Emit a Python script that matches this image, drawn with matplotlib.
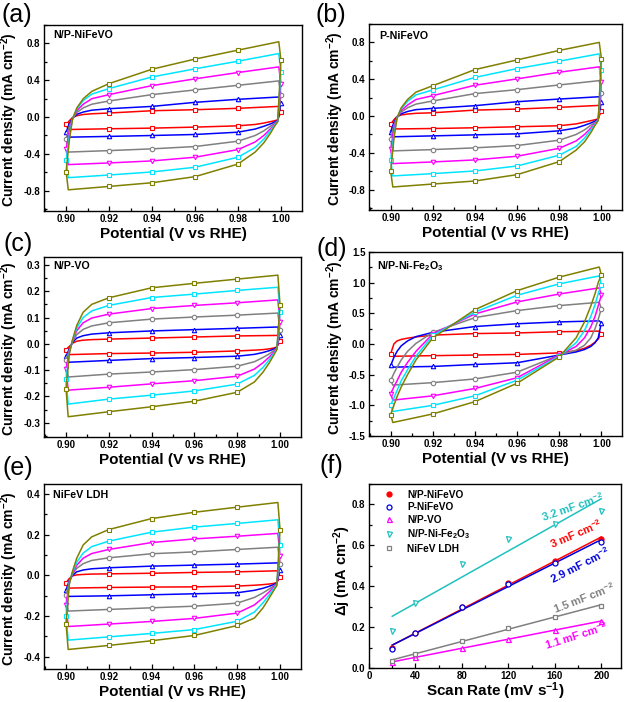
import numpy as np
import matplotlib
matplotlib.use('Agg')
import matplotlib.pyplot as plt
from matplotlib.ticker import MultipleLocator, FormatStrFormatter

plt.rcParams['font.family'] = ['Liberation Sans', 'DejaVu Sans']
plt.rcParams['font.weight'] = 'bold'
plt.rcParams['axes.labelweight'] = 'bold'
plt.rcParams['mathtext.fontset'] = 'custom'
plt.rcParams['mathtext.rm'] = 'Liberation Sans:bold'
plt.rcParams['mathtext.it'] = 'Liberation Sans:bold'
plt.rcParams['mathtext.bf'] = 'Liberation Sans:bold'
plt.rcParams['mathtext.default'] = 'rm'
plt.rcParams['axes.unicode_minus'] = False

# potentials of the anodic (forward) and cathodic (backward) branch samples
POT_UP = [0.900, 0.9015, 0.903, 0.905, 0.908, 0.912, 0.920, 0.940, 0.960, 0.980, 0.999]
POT_DN = [1.000, 0.9985, 0.997, 0.995, 0.992, 0.988, 0.980, 0.960, 0.940, 0.920, 0.901]
# rows: scan rates 20, 40, 80, 120, 160, 200 mV/s
CV_COLORS = ['#ff0000', '#0000ff', '#808080', '#ff00ff', '#00e5ff', '#808000']
CV_MARKERS = ['s', '^', 'o', 'v', 's', 's']

# (a) N/P-NiFeVO
a_up = [[-0.080, -0.04, -0.005, 0.015, 0.028, 0.036, 0.044, 0.069, 0.080, 0.095, 0.116],
        [-0.164, -0.07, -0.010, 0.030, 0.055, 0.075, 0.091, 0.116, 0.160, 0.193, 0.218],
        [-0.236, -0.10, -0.015, 0.050, 0.100, 0.140, 0.175, 0.244, 0.295, 0.345, 0.393],
        [-0.345, -0.15, -0.020, 0.070, 0.140, 0.200, 0.244, 0.342, 0.415, 0.484, 0.545],
        [-0.470, -0.20, -0.020, 0.090, 0.180, 0.250, 0.310, 0.436, 0.524, 0.607, 0.690],
        [-0.593, -0.25, -0.020, 0.100, 0.200, 0.280, 0.364, 0.520, 0.630, 0.727, 0.818]]
a_dn = [[0.058, -0.030, -0.040, -0.050, -0.065, -0.080, -0.095, -0.109, -0.120, -0.127, -0.135],
        [0.153, -0.035, -0.055, -0.075, -0.100, -0.130, -0.164, -0.189, -0.200, -0.210, -0.218],
        [0.244, -0.040, -0.070, -0.100, -0.150, -0.200, -0.262, -0.320, -0.345, -0.364, -0.380],
        [0.364, -0.040, -0.080, -0.130, -0.200, -0.270, -0.353, -0.436, -0.476, -0.498, -0.516],
        [0.490, -0.045, -0.090, -0.150, -0.240, -0.330, -0.436, -0.545, -0.596, -0.629, -0.658],
        [0.618, -0.050, -0.100, -0.180, -0.280, -0.380, -0.510, -0.647, -0.713, -0.753, -0.790]]

# (b) P-NiFeVO
b_up = [[-0.090, -0.04, -0.005, 0.012, 0.022, 0.030, 0.036, 0.065, 0.076, 0.095, 0.116],
        [-0.170, -0.07, -0.010, 0.025, 0.050, 0.070, 0.084, 0.113, 0.156, 0.185, 0.210],
        [-0.250, -0.10, -0.015, 0.045, 0.090, 0.130, 0.164, 0.244, 0.287, 0.338, 0.385],
        [-0.360, -0.15, -0.020, 0.060, 0.120, 0.180, 0.222, 0.335, 0.404, 0.476, 0.535],
        [-0.480, -0.20, -0.020, 0.080, 0.160, 0.230, 0.284, 0.420, 0.516, 0.596, 0.676],
        [-0.600, -0.25, -0.020, 0.090, 0.180, 0.260, 0.330, 0.505, 0.610, 0.713, 0.800]]
b_dn = [[0.058, -0.030, -0.040, -0.050, -0.065, -0.085, -0.105, -0.116, -0.127, -0.135, -0.140],
        [0.156, -0.035, -0.055, -0.075, -0.100, -0.130, -0.160, -0.193, -0.204, -0.215, -0.225],
        [0.255, -0.040, -0.070, -0.100, -0.150, -0.200, -0.262, -0.320, -0.345, -0.364, -0.378],
        [0.370, -0.040, -0.080, -0.130, -0.200, -0.270, -0.350, -0.436, -0.476, -0.498, -0.516],
        [0.500, -0.045, -0.090, -0.150, -0.240, -0.330, -0.425, -0.542, -0.596, -0.625, -0.650],
        [0.625, -0.050, -0.100, -0.180, -0.280, -0.370, -0.495, -0.636, -0.705, -0.738, -0.770]]

# (c) N/P-VO
c_up = [[-0.022, -0.010, 0.002, 0.010, 0.014, 0.016, 0.018, 0.022, 0.026, 0.030, 0.032],
        [-0.047, -0.020, 0.005, 0.022, 0.031, 0.037, 0.042, 0.049, 0.054, 0.059, 0.064],
        [-0.060, -0.025, 0.008, 0.035, 0.055, 0.068, 0.080, 0.094, 0.102, 0.109, 0.117],
        [-0.094, -0.030, 0.010, 0.050, 0.080, 0.098, 0.113, 0.134, 0.146, 0.156, 0.167],
        [-0.134, -0.035, 0.012, 0.060, 0.100, 0.125, 0.146, 0.176, 0.189, 0.203, 0.215],
        [-0.170, -0.040, 0.015, 0.070, 0.120, 0.150, 0.175, 0.213, 0.230, 0.246, 0.261]]
c_dn = [[0.009, -0.012, -0.016, -0.019, -0.022, -0.024, -0.027, -0.032, -0.035, -0.037, -0.041],
        [0.035, -0.014, -0.020, -0.026, -0.033, -0.040, -0.047, -0.052, -0.056, -0.063, -0.070],
        [0.051, -0.016, -0.026, -0.038, -0.052, -0.068, -0.085, -0.098, -0.107, -0.115, -0.126],
        [0.083, -0.018, -0.032, -0.050, -0.072, -0.096, -0.123, -0.140, -0.152, -0.165, -0.176],
        [0.120, -0.020, -0.038, -0.060, -0.090, -0.120, -0.153, -0.179, -0.195, -0.210, -0.229],
        [0.148, -0.022, -0.044, -0.072, -0.108, -0.145, -0.184, -0.218, -0.239, -0.258, -0.277]]

# (d) N/P-Ni-Fe2O3
d_up = [[-0.16, 0.00, 0.05, 0.075, 0.095, 0.115, 0.145, 0.17, 0.18, 0.20, 0.21],
        [-0.35, -0.22, -0.12, -0.03, 0.05, 0.12, 0.19, 0.285, 0.33, 0.36, 0.377],
        [-0.595, -0.48, -0.38, -0.26, -0.12, 0.01, 0.19, 0.43, 0.545, 0.626, 0.68],
        [-0.81, -0.70, -0.60, -0.46, -0.30, -0.12, 0.165, 0.49, 0.686, 0.815, 0.915],
        [-0.995, -0.88, -0.76, -0.60, -0.42, -0.20, 0.14, 0.52, 0.795, 0.98, 1.11],
        [-1.15, -1.00, -0.86, -0.70, -0.50, -0.26, 0.10, 0.56, 0.87, 1.09, 1.255]]
d_dn = [[0.17, 0.08, 0.03, -0.02, -0.07, -0.11, -0.145, -0.17, -0.18, -0.19, -0.20],
        [0.345, 0.10, 0.02, -0.04, -0.09, -0.13, -0.18, -0.306, -0.334, -0.366, -0.377],
        [0.578, 0.40, 0.25, 0.10, -0.02, -0.10, -0.18, -0.46, -0.57, -0.63, -0.67],
        [0.795, 0.62, 0.45, 0.28, 0.10, -0.04, -0.18, -0.55, -0.725, -0.845, -0.915],
        [0.97, 0.82, 0.64, 0.45, 0.22, 0.02, -0.20, -0.59, -0.845, -1.00, -1.10],
        [1.13, 1.00, 0.82, 0.62, 0.36, 0.10, -0.21, -0.64, -0.94, -1.14, -1.28]]

# (e) NiFeV LDH
e_up = [[-0.036, -0.015, -0.002, 0.003, 0.005, 0.007, 0.008, 0.011, 0.015, 0.018, 0.023],
        [-0.072, -0.025, 0.000, 0.018, 0.027, 0.033, 0.038, 0.046, 0.051, 0.056, 0.062],
        [-0.098, -0.030, 0.005, 0.035, 0.058, 0.074, 0.087, 0.107, 0.116, 0.128, 0.139],
        [-0.143, -0.035, 0.010, 0.050, 0.085, 0.108, 0.128, 0.162, 0.180, 0.193, 0.207],
        [-0.200, -0.040, 0.015, 0.065, 0.110, 0.142, 0.169, 0.213, 0.238, 0.256, 0.274],
        [-0.238, -0.045, 0.020, 0.085, 0.150, 0.190, 0.226, 0.280, 0.311, 0.336, 0.359]]
e_dn = [[-0.007, -0.035, -0.039, -0.042, -0.045, -0.048, -0.052, -0.056, -0.057, -0.059, -0.062],
        [0.028, -0.037, -0.045, -0.053, -0.063, -0.073, -0.085, -0.090, -0.095, -0.100, -0.103],
        [0.057, -0.040, -0.052, -0.066, -0.086, -0.108, -0.136, -0.151, -0.159, -0.167, -0.175],
        [0.097, -0.042, -0.058, -0.080, -0.110, -0.145, -0.185, -0.211, -0.226, -0.239, -0.251],
        [0.151, -0.045, -0.065, -0.095, -0.135, -0.180, -0.225, -0.266, -0.285, -0.302, -0.318],
        [0.226, -0.050, -0.075, -0.110, -0.160, -0.210, -0.246, -0.295, -0.321, -0.344, -0.364]]

# (f) delta j vs scan rate
scan_rate = [20, 40, 80, 120, 160, 200]
dj_np_nifevo = [0.10, 0.17, 0.30, 0.415, 0.525, 0.63]
dj_p_nifevo = [0.095, 0.17, 0.30, 0.41, 0.515, 0.615]
dj_np_vo = [0.027, 0.052, 0.10, 0.143, 0.185, 0.228]
dj_np_nife2o3 = [0.18, 0.32, 0.51, 0.63, 0.705, 0.77]
dj_nifev_ldh = [0.035, 0.07, 0.133, 0.195, 0.25, 0.305]
cdl_labels = ['3 mF cm$^{-2}$', '2.9 mF cm$^{-2}$', '1.1 mF cm$^{-2}$',
              '3.2 mF cm$^{-2}$', '1.5 mF cm$^{-2}$']

W, H = 628, 702
fig = plt.figure(figsize=(W / 100, H / 100), dpi=100)


def box(l, t, r, b):
    return fig.add_axes([l / W, 1 - b / H, (r - l) / W, (b - t) / H])


def style(ax):
    for s in ax.spines.values():
        s.set_linewidth(1.0)
    ax.tick_params(which='both', direction='in', top=False, right=False,
                   labelsize=7, width=0.9, pad=2.5)
    ax.tick_params(which='major', length=3.5)
    ax.tick_params(which='minor', length=2)


def draw_cv(ax, up, dn, ylim, major, name, namepos, ylab_y):
    mk = [0, 6, 7, 8, 9, 11, 17, 18, 19, 20]
    for i in range(6):
        x = POT_UP + POT_DN + [POT_UP[0]]
        y = up[i] + dn[i] + [up[i][0]]
        ax.plot(x, y, color=CV_COLORS[i], lw=1.1, marker=CV_MARKERS[i],
                markevery=mk, ms=3.2, mfc='white', mec=CV_COLORS[i], mew=0.8)
    ax.set_xlim(0.8897, 1.0098)
    ax.set_ylim(*ylim)
    ax.xaxis.set_major_locator(MultipleLocator(0.02))
    ax.xaxis.set_minor_locator(MultipleLocator(0.01))
    ax.xaxis.set_major_formatter(FormatStrFormatter('%.2f'))
    ax.yaxis.set_major_locator(MultipleLocator(major))
    ax.yaxis.set_minor_locator(MultipleLocator(major / 2))
    ax.yaxis.set_major_formatter(FormatStrFormatter('%.1f'))
    style(ax)
    ax.set_xlabel('Potential (V vs RHE)', fontsize=11, labelpad=2)
    ax.set_ylabel('Current density (mA cm$^{-2}$)', fontsize=10)
    ax.yaxis.set_label_coords(-0.092, ylab_y)
    ax.text(namepos[0], namepos[1], name, transform=ax.transAxes,
            fontsize=7.7, va='center', ha='left')


ax_a = box(44, 25, 302, 211)
draw_cv(ax_a, a_up, a_dn, (-1.02, 1.0), 0.4, 'N/P-NiFeVO', (0.034, 0.944), 0.49)
ax_b = box(369, 24, 622, 210)
draw_cv(ax_b, b_up, b_dn, (-1.02, 1.0), 0.4, 'P-NiFeVO', (0.04, 0.938), 0.49)
ax_c = box(44, 257, 301, 437)
draw_cv(ax_c, c_up, c_dn, (-0.354, 0.33), 0.1, 'N/P-VO', (0.035, 0.952), 0.49)
ax_d = box(369, 252, 622, 436)
draw_cv(ax_d, d_up, d_dn, (-1.5, 1.5), 0.5, 'N/P-Ni-Fe$_2$O$_3$', (0.032, 0.924), 0.48)
ax_e = box(44, 484, 301, 669)
draw_cv(ax_e, e_up, e_dn, (-0.46, 0.45), 0.2, 'NiFeV LDH', (0.034, 0.94), 0.49)

# (f)
ax_f = box(369, 484, 621, 668)
series = [dj_np_nifevo, dj_p_nifevo, dj_np_vo, dj_np_nife2o3, dj_nifev_ldh]
names = ['N/P-NiFeVO', 'P-NiFeVO', 'N/P-VO', 'N/P-Ni-Fe$_2$O$_3$', 'NiFeV LDH']
f_colors = ['#ff0000', '#0000dd', '#ff00ff', '#20c0c0', '#808080']
f_markers = ['o', 'o', '^', 'v', 's']
f_sizes = [3.6, 3.6, 3.6, 3.6, 2.8]
handles = []
xr = np.array(scan_rate, dtype=float)
for k, yv in enumerate(series):
    fill = f_colors[k] if k == 0 else 'white'
    h, = ax_f.plot(scan_rate, yv, ls='none', marker=f_markers[k], ms=f_sizes[k],
                   mfc=fill, mec=f_colors[k], mew=0.9, label=names[k], zorder=3)
    handles.append(h)
    p = np.polyfit(xr, yv, 1)
    ax_f.plot(xr[[0, -1]], np.polyval(p, xr[[0, -1]]), color=f_colors[k], lw=1.1, zorder=2)

text_pos = [(178, 0.655, 23), (181.5, 0.505, 27), (178.5, 0.158, 17.5),
            (175, 0.79, 19), (185, 0.345, 21)]
for k, (tx, ty, rot) in enumerate(text_pos):
    ax_f.text(tx, ty, cdl_labels[k], color=f_colors[k], fontsize=8,
              rotation=rot, ha='center', va='center', rotation_mode='anchor')

ax_f.set_xlim(0, 217)
ax_f.set_ylim(0, 0.9)
ax_f.xaxis.set_major_locator(MultipleLocator(40))
ax_f.xaxis.set_minor_locator(MultipleLocator(20))
ax_f.yaxis.set_major_locator(MultipleLocator(0.2))
ax_f.yaxis.set_minor_locator(MultipleLocator(0.1))
ax_f.yaxis.set_major_formatter(FormatStrFormatter('%.1f'))
style(ax_f)
ax_f.set_xlabel('Scan Rate (mV s$^{-1}$)', fontsize=11)
ax_f.xaxis.set_label_coords(0.5, -0.065)
ax_f.set_ylabel('\u0394j (mA cm$^{-2}$)', fontsize=10.5)
ax_f.yaxis.set_label_coords(-0.063, 0.53)
ax_f.legend(handles=handles, loc='upper left', bbox_to_anchor=(0.044, 0.99),
            frameon=False, fontsize=7.3, handlelength=1.0, handletextpad=1.3,
            labelspacing=0.25, borderaxespad=0)

for ax in [ax_a, ax_b, ax_c, ax_d, ax_e, ax_f]:
    for lab in ax.get_xticklabels() + ax.get_yticklabels():
        lab.set_fontweight('bold')

# panel letters
for lab, (px, py) in zip('abcdef', [(17, 15), (331, 15), (18, 244),
                                    (332, 249), (18, 468), (331, 466)]):
    fig.text(px / W, 1 - py / H, '(%s)' % lab, fontsize=18, fontweight='normal',
             ha='center', va='center')

fig.savefig('out.png', dpi=100)
